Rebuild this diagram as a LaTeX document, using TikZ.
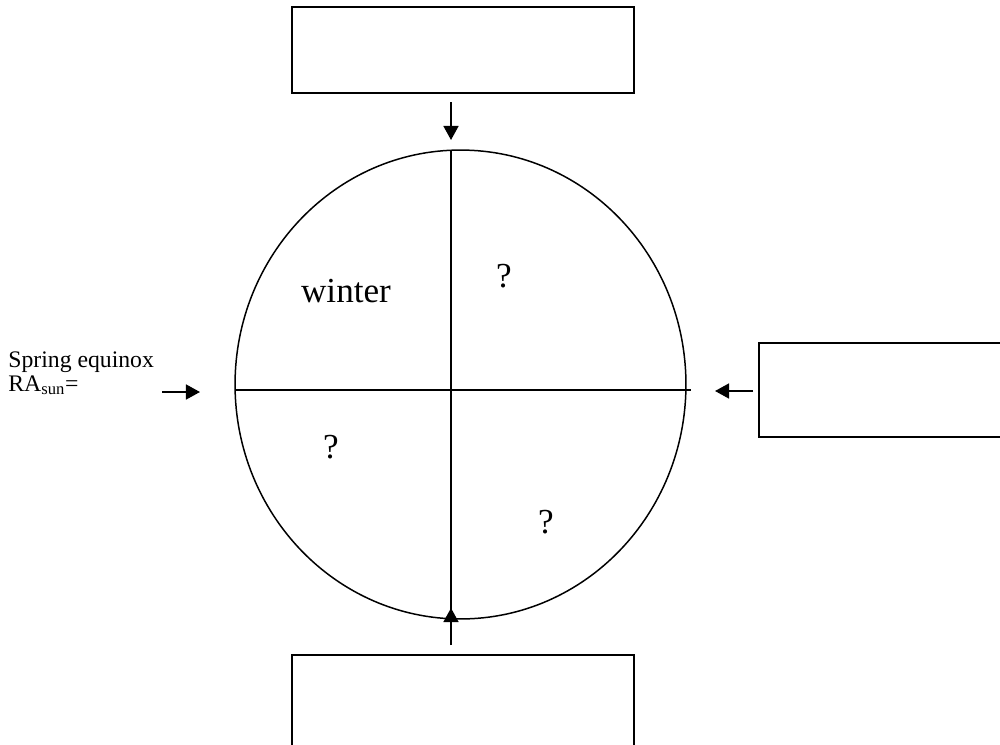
\documentclass[tikz,border=0pt]{standalone}
\usepackage{fontspec}
\setmainfont{Liberation Serif}
\usepackage{tikz}
\usetikzlibrary{shapes,arrows.meta,positioning,calc}

\begin{document}
\begin{tikzpicture}[x=0.02cm, y=-0.02cm,
        answer/.style={rectangle, draw, line width=1pt, minimum width=6.84cm, minimum height=1.72cm, inner sep=0pt},
        season/.style={font=\fontsize{20}{24}\selectfont, anchor=base, inner sep=0pt},
        arrow/.style={-{Triangle[length=8pt, width=8.5pt]}, line width=1.1pt}]

      \clip (0,0) rectangle (1000,744);

      % boxes to fill in
      \node[answer] (north) at (463,50) {};
      \node[answer, minimum width=5cm, minimum height=1.88cm] (east) at (884,390) {};
      \node[answer, minimum height=2cm] (south) at (463,705) {};

      % the year as a circle
      \node[ellipse, draw, line width=0.85pt, minimum width=9.02cm, minimum height=9.38cm, inner sep=0pt] (year) at (460.5,384.5) {};
      \draw[line width=0.85pt] (451,150) -- (451,619);
      \draw[line width=0.85pt] (235,390) -- (691,390);

      \node[season] (winter) at (346,302) {winter};
      \node[season] (q1) at (504,287) {?};
      \node[season] (q2) at (331,458) {?};
      \node[season] (q3) at (546,533) {?};

      \node[anchor=north west, align=left, inner sep=0pt, font=\fontsize{13.5}{13.7}\selectfont] (spring) at (8,351) {Spring equinox\\RA\textsubscript{sun}=};

      \coordinate (ntail) at (451,102);
      \coordinate (ntip) at (451,140);
      \coordinate (stail) at (451,645);
      \coordinate (stip) at (451,608);
      \coordinate (etail) at (753,391);
      \coordinate (etip) at (715,391);
      \coordinate (wtail) at (162,392);
      \coordinate (wtip) at (200,392);

      \draw[arrow] (ntail) -- (ntip);
      \draw[arrow] (stail) -- (stip);
      \draw[arrow] (etail) -- (etip);
      \draw[arrow] (wtail) -- (wtip);
    \end{tikzpicture}
\end{document}
